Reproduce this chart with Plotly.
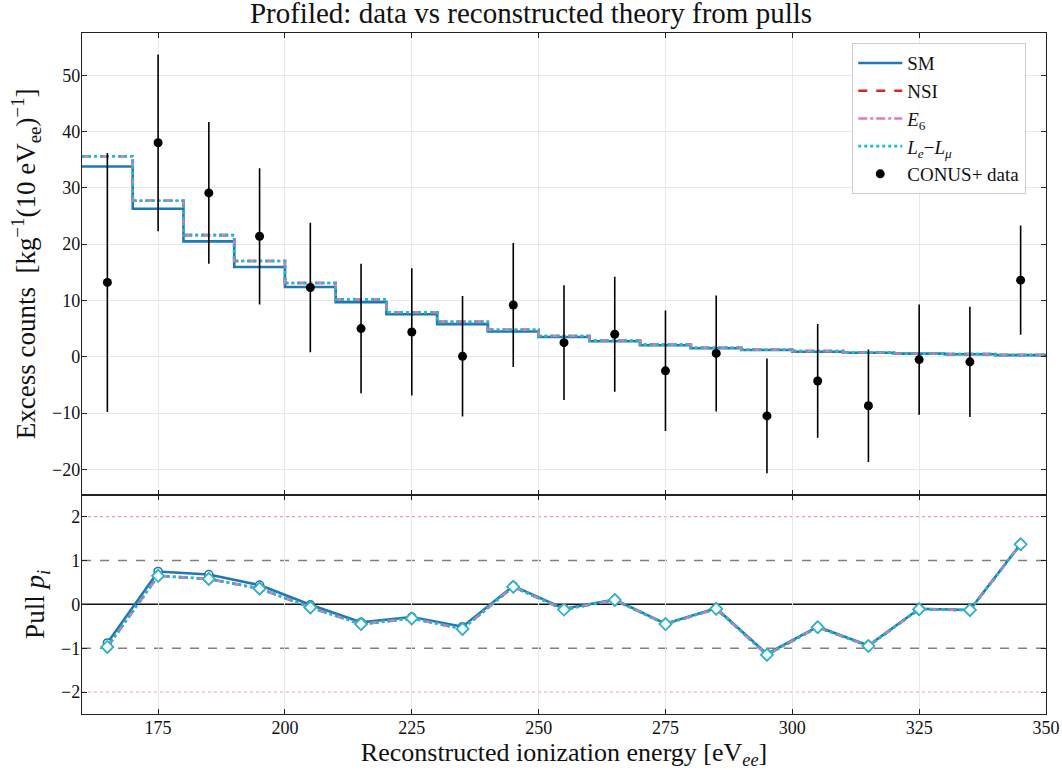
import plotly.graph_objects as go

# ---------------- data ----------------
bin_edges = [160, 170, 180, 190, 200, 210, 220, 230, 240, 250, 260,
             270, 280, 290, 300, 310, 320, 330, 340, 350]
energy_centers = [165, 175, 185, 195, 205, 215, 225, 235, 245, 255,
                  265, 275, 285, 295, 305, 315, 325, 335, 345]

data_counts = [13.2, 38.0, 29.1, 21.4, 12.3, 5.0, 4.4, 0.1, 9.2, 2.5,
               4.0, -2.5, 0.6, -10.5, -4.3, -8.7, -0.5, -0.9, 13.6]
data_err = [23.0, 15.7, 12.6, 12.1, 11.5, 11.5, 11.3, 10.7, 11.0, 10.2,
            10.2, 10.7, 10.3, 10.2, 10.1, 10.0, 9.8, 9.8, 9.7]

theory_sm = [33.8, 26.3, 20.5, 15.95, 12.4, 9.7, 7.55, 5.8, 4.5, 3.5,
             2.75, 2.05, 1.5, 1.2, 0.9, 0.7, 0.55, 0.45, 0.3]
theory_nsi = [35.6, 27.7, 21.6, 17.0, 13.1, 10.2, 7.9, 6.2, 4.8, 3.7,
              2.9, 2.15, 1.6, 1.25, 1.0, 0.75, 0.58, 0.47, 0.32]
theory_e6 = [35.6, 27.7, 21.6, 17.0, 13.1, 10.2, 7.9, 6.2, 4.8, 3.7,
             2.9, 2.15, 1.6, 1.25, 1.0, 0.75, 0.58, 0.47, 0.32]
theory_lelmu = [35.6, 27.7, 21.6, 17.0, 13.1, 10.2, 7.9, 6.2, 4.8, 3.7,
                2.9, 2.15, 1.6, 1.25, 1.0, 0.75, 0.58, 0.47, 0.32]

pull_sm = [-0.88, 0.75, 0.68, 0.44, -0.01, -0.41, -0.29, -0.51, 0.42, -0.10,
           0.11, -0.44, -0.09, -1.13, -0.51, -0.94, -0.10, -0.13, 1.38]
pull_nsi = [-0.97, 0.65, 0.58, 0.36, -0.07, -0.45, -0.32, -0.56, 0.40, -0.12,
            0.10, -0.45, -0.10, -1.15, -0.52, -0.95, -0.11, -0.13, 1.37]
pull_e6 = [-0.97, 0.65, 0.58, 0.36, -0.07, -0.45, -0.32, -0.56, 0.40, -0.12,
           0.10, -0.45, -0.10, -1.15, -0.52, -0.95, -0.11, -0.13, 1.37]
pull_lelmu = [-0.97, 0.65, 0.58, 0.36, -0.07, -0.45, -0.32, -0.56, 0.40, -0.12,
              0.10, -0.45, -0.10, -1.15, -0.52, -0.95, -0.11, -0.13, 1.37]

x_ticks = [175, 200, 225, 250, 275, 300, 325, 350]
y_ticks_top = [-20, -10, 0, 10, 20, 30, 40, 50]
y_ticks_pull = [-2, -1, 0, 1, 2]

# ---------------- styles ----------------
FONT = "Liberation Serif"
C_SM, C_NSI, C_E6, C_LL = "#1f77b4", "#d62728", "#e377c2", "#17becf"

models = [
    ("SM", theory_sm, pull_sm, C_SM, "solid", "circle"),
    ("NSI", theory_nsi, pull_nsi, C_NSI, "dash", "diamond"),
    ("<i>E</i><sub>6</sub>", theory_e6, pull_e6, C_E6, "dashdot", "diamond"),
    ("<i>L<sub>e</sub></i>\u2212<i>L<sub>\u03bc</sub></i>", theory_lelmu, pull_lelmu,
     C_LL, "dot", "diamond"),
]

fig = go.Figure()

for name, th, pl, col, dash, sym in models:
    fig.add_trace(go.Scatter(
        x=bin_edges, y=th + [th[-1]], mode="lines", line_shape="hv",
        line=dict(color=col, width=2.6, dash=dash), name=name,
        xaxis="x", yaxis="y"))

fig.add_trace(go.Scatter(
    x=energy_centers, y=data_counts, mode="markers", name="CONUS+ data",
    marker=dict(color="black", size=9),
    error_y=dict(type="data", array=data_err, color="black", thickness=1.6, width=0),
    xaxis="x", yaxis="y"))

# reference lines in pull panel
for yv, col, dash, w in [(0, "#111111", "solid", 1.5), (1, "#808080", "dash", 1.4),
                         (-1, "#808080", "dash", 1.4), (2, "rgba(214,39,40,0.45)", "dot", 1.1),
                         (-2, "rgba(214,39,40,0.45)", "dot", 1.1)]:
    fig.add_shape(type="line", xref="x2 domain", yref="y2", x0=0, x1=1, y0=yv, y1=yv,
                  line=dict(color=col, width=w, dash=dash), layer="below")

for name, th, pl, col, dash, sym in models:
    fig.add_trace(go.Scatter(
        x=energy_centers, y=pl, mode="lines+markers", showlegend=False,
        line=dict(color=col, width=2.6, dash=dash),
        marker=dict(symbol=sym, size=8 if sym == "circle" else 9, color="white",
                    line=dict(color=col, width=1.6)),
        xaxis="x2", yaxis="y2"))

split = 0.322
axis_common = dict(showline=True, linecolor="#222222", linewidth=1.3, mirror="allticks",
                   ticks="inside", ticklen=5, tickwidth=1, tickcolor="#222222",
                   gridcolor="#e8e8e8", gridwidth=1, zeroline=False,
                   automargin=False,
                   tickfont=dict(family=FONT, size=18, color="#111111"))

fig.update_layout(
    width=1062, height=770,
    margin=dict(l=82, r=16, t=33, b=56),
    paper_bgcolor="white", plot_bgcolor="white",
    font=dict(family=FONT, color="#111111"),
    title=dict(text="Profiled: data vs reconstructed theory from pulls",
               x=0.5, xref="container", xanchor="center",
               y=1 - 3 / 770, yref="container", yanchor="top", pad=dict(t=0),
               font=dict(family=FONT, size=29, color="#111111")),
    xaxis=dict(domain=[0, 1], range=[160, 350], tickvals=x_ticks, showticklabels=False,
               showgrid=True, anchor="y", matches="x2", **axis_common),
    yaxis=dict(domain=[split, 1], range=[-24.5, 57.5], tickvals=y_ticks_top,
               showgrid=True, ticklabelstandoff=-3,
               title=dict(text="Excess counts  [kg<sup>\u22121</sup>(10 eV<sub>ee</sub>)<sup>\u22121</sup>]",
                          font=dict(family=FONT, size=27), standoff=8),
               anchor="x", **axis_common),
    xaxis2=dict(domain=[0, 1], range=[160, 350], tickvals=x_ticks, anchor="y2",
                showgrid=True, ticklabelstandoff=-3,
                title=dict(text="Reconstructed ionization energy [eV<sub><i>ee</i></sub>]",
                           font=dict(family=FONT, size=26), standoff=4),
                **axis_common),
    yaxis2=dict(domain=[0, split], range=[-2.5, 2.5], tickvals=y_ticks_pull,
                showgrid=False, ticklabelstandoff=-3,
                title=dict(text="Pull <i>p<sub>i</sub></i>", font=dict(family=FONT, size=27),
                           standoff=8),
                anchor="x2", **axis_common),
    legend=dict(x=0.799, y=0.985, xanchor="left", yanchor="top",
                bgcolor="rgba(255,255,255,0.85)", bordercolor="#cccccc", borderwidth=1,
                font=dict(family=FONT, size=19, color="#111111"),
                itemwidth=44, tracegroupgap=0),
    showlegend=True,
)

fig.write_html("out.html", config={"displayModeBar": False},
               post_script="document.body.style.margin='0';")
